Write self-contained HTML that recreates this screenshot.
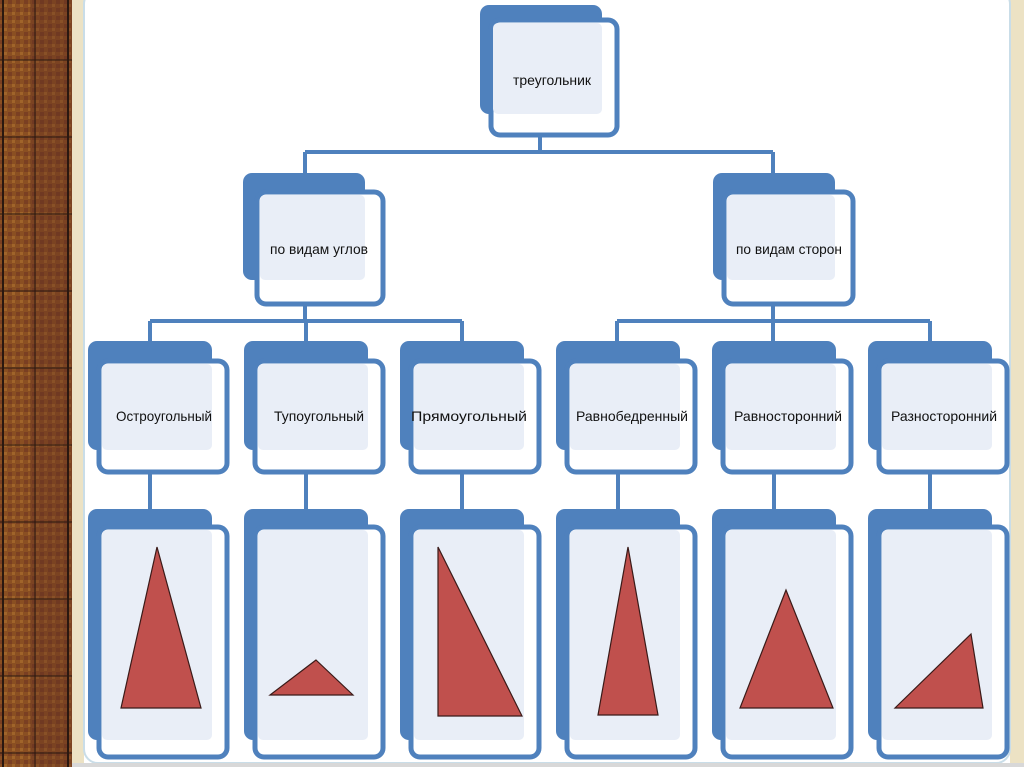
<!DOCTYPE html>
<html><head><meta charset="utf-8"><style>
html,body{margin:0;padding:0;width:1024px;height:767px;overflow:hidden;background:#fff}
</style></head><body>
<svg width="1024" height="767" viewBox="0 0 1024 767" xmlns="http://www.w3.org/2000/svg" font-family="Liberation Sans, sans-serif">
<defs>
<pattern id="tex" width="8" height="8" patternUnits="userSpaceOnUse">
<rect width="8" height="8" fill="#8a4f22"/><rect x="0" y="0" width="4" height="4" fill="#7a3f22"/><rect x="4" y="4" width="3" height="3" fill="#a0642a"/>
</pattern>
</defs>
<rect x="0" y="0" width="72" height="767" fill="url(#tex)"/>
<rect x="30" y="0" width="42" height="767" fill="#5e2e22" opacity="0.35"/>
<line x1="3" y1="0" x2="3" y2="767" stroke="#2a1810" stroke-width="2"/>
<line x1="35" y1="0" x2="35" y2="767" stroke="#2a1810" stroke-width="1"/>
<line x1="68" y1="0" x2="68" y2="767" stroke="#2a1810" stroke-width="2"/>
<g stroke="#2a1810" stroke-width="1">
<line x1="0" y1="60" x2="72" y2="60"/><line x1="0" y1="137" x2="72" y2="137"/><line x1="0" y1="214" x2="72" y2="214"/><line x1="0" y1="291" x2="72" y2="291"/><line x1="0" y1="368" x2="72" y2="368"/><line x1="0" y1="445" x2="72" y2="445"/><line x1="0" y1="522" x2="72" y2="522"/><line x1="0" y1="599" x2="72" y2="599"/><line x1="0" y1="676" x2="72" y2="676"/><line x1="0" y1="753" x2="72" y2="753"/>
</g>
<rect x="72" y="0" width="12" height="767" fill="#ece2c4"/>
<rect x="1010" y="0" width="14" height="767" fill="#ece2c4"/>
<rect x="84" y="-10" width="926" height="773" rx="14" fill="#fff" stroke="#c9dde8" stroke-width="2"/>
<rect x="72" y="763" width="952" height="4" fill="#d8d8d8"/>

<g stroke="#4f81bd" stroke-width="4" fill="none">
<path d="M540 137V152M305 152H773M305 152V173M773 152V173"/>
<path d="M305 304V321M150 321H462M150 321V341M306 321V341M462 321V341"/>
<path d="M773 304V321M617 321H930M617 321V341M773 321V341M930 321V341"/>
<path d="M150 472V509M306 472V509M462 472V509M618 472V509M774 472V509M930 472V509"/>
</g>

<g fill="#4f81bd">
<rect x="480" y="5" width="122" height="109" rx="9"/>
<rect x="243" y="173" width="122" height="107" rx="9"/>
<rect x="713" y="173" width="122" height="107" rx="9"/>
<rect x="88" y="341" width="124" height="109" rx="9"/><rect x="244" y="341" width="124" height="109" rx="9"/><rect x="400" y="341" width="124" height="109" rx="9"/><rect x="556" y="341" width="124" height="109" rx="9"/><rect x="712" y="341" width="124" height="109" rx="9"/><rect x="868" y="341" width="124" height="109" rx="9"/>
<rect x="88" y="509" width="124" height="231" rx="9"/><rect x="244" y="509" width="124" height="231" rx="9"/><rect x="400" y="509" width="124" height="231" rx="9"/><rect x="556" y="509" width="124" height="231" rx="9"/><rect x="712" y="509" width="124" height="231" rx="9"/><rect x="868" y="509" width="124" height="231" rx="9"/>
</g>
<g fill="#fff" stroke="#4f81bd" stroke-width="5">
<rect x="491" y="20" width="126" height="115" rx="9"/>
<rect x="257" y="192" width="126" height="112" rx="9"/>
<rect x="724" y="192" width="129" height="112" rx="9"/>
<rect x="99" y="361" width="128" height="111" rx="9"/><rect x="255" y="361" width="128" height="111" rx="9"/><rect x="411" y="361" width="128" height="111" rx="9"/><rect x="567" y="361" width="128" height="111" rx="9"/><rect x="723" y="361" width="128" height="111" rx="9"/><rect x="879" y="361" width="128" height="111" rx="9"/>
<rect x="99" y="527" width="128" height="230" rx="9"/><rect x="255" y="527" width="128" height="230" rx="9"/><rect x="411" y="527" width="128" height="230" rx="9"/><rect x="567" y="527" width="128" height="230" rx="9"/><rect x="723" y="527" width="128" height="230" rx="9"/><rect x="879" y="527" width="128" height="230" rx="9"/>
</g>
<g fill="#e9eef7">
<rect x="493" y="23" width="109" height="91" rx="5"/>
<rect x="260" y="195" width="105" height="85" rx="5"/>
<rect x="727" y="195" width="108" height="85" rx="5"/>
<rect x="102" y="364" width="110" height="86" rx="5"/><rect x="258" y="364" width="110" height="86" rx="5"/><rect x="414" y="364" width="110" height="86" rx="5"/><rect x="570" y="364" width="110" height="86" rx="5"/><rect x="726" y="364" width="110" height="86" rx="5"/><rect x="882" y="364" width="110" height="86" rx="5"/>
<rect x="102" y="530" width="110" height="210" rx="5"/><rect x="258" y="530" width="110" height="210" rx="5"/><rect x="414" y="530" width="110" height="210" rx="5"/><rect x="570" y="530" width="110" height="210" rx="5"/><rect x="726" y="530" width="110" height="210" rx="5"/><rect x="882" y="530" width="110" height="210" rx="5"/>
</g>

<g font-size="14" fill="#111" text-anchor="middle">
<text x="552" y="85" textLength="78" lengthAdjust="spacingAndGlyphs">треугольник</text>
<text x="319" y="254" textLength="98" lengthAdjust="spacingAndGlyphs">по видам углов</text>
<text x="789" y="254" textLength="106" lengthAdjust="spacingAndGlyphs">по видам сторон</text>
<text x="164" y="421" textLength="96" lengthAdjust="spacingAndGlyphs">Остроугольный</text>
<text x="319" y="421" textLength="90" lengthAdjust="spacingAndGlyphs">Тупоугольный</text>
<text x="469" y="421" textLength="116" lengthAdjust="spacingAndGlyphs">Прямоугольный</text>
<text x="632" y="421" textLength="112" lengthAdjust="spacingAndGlyphs">Равнобедренный</text>
<text x="788" y="421" textLength="108" lengthAdjust="spacingAndGlyphs">Равносторонний</text>
<text x="944" y="421" textLength="106" lengthAdjust="spacingAndGlyphs">Разносторонний</text>
</g>

<g fill="#c0504d" stroke="#3a1a18" stroke-width="1.2">
<polygon points="157,547 121,708 201,708"/>
<polygon points="316,660 270,695 353,695"/>
<polygon points="438,547 438,716 522,716"/>
<polygon points="628,547 598,715 658,715"/>
<polygon points="786,590 740,708 833,708"/>
<polygon points="971,634 895,708 983,708"/>
</g>
</svg>
</body></html>
